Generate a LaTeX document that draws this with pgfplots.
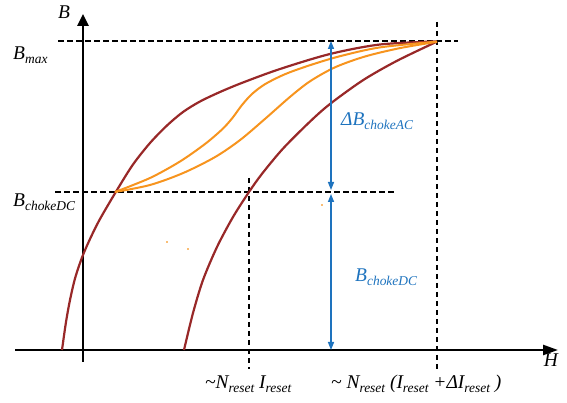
\documentclass[border=0pt]{standalone}
\usepackage{pgfplots}
\pgfplotsset{compat=1.18}
\usetikzlibrary{arrows.meta}
\usepackage{fontspec}
\setmainfont{Liberation Serif}
\definecolor{cred}{RGB}{152,40,40}
\definecolor{corange}{RGB}{247,148,30}
\definecolor{cblue}{RGB}{30,115,190}
\newcommand{\lbl}{\fontsize{19.5}{22}\selectfont\itshape}
\newcommand{\s}[1]{\raisebox{-4bp}{\fontsize{13.5}{14}\selectfont\itshape #1}}
\begin{document}
\begin{tikzpicture}
\begin{axis}[
  width=567bp, height=403bp, scale only axis,
  xmin=0, xmax=567, ymin=0, ymax=403,
  axis lines=none, clip=false,
]
\path (rel axis cs:0,0) rectangle (rel axis cs:1,1);
% dashed guides
\addplot[black, line width=1.1bp, dash pattern=on 5.5bp off 3.5bp] coordinates {(58,362) (458,362)};
\addplot[black, line width=1.1bp, dash pattern=on 5.5bp off 3.5bp] coordinates {(55,211) (395,211)};
\addplot[black, line width=1.1bp, dash pattern=on 5.5bp off 3.5bp] coordinates {(249,225) (249,34)};
\addplot[black, line width=1.1bp, dash pattern=on 5.5bp off 3.5bp] coordinates {(437,381) (437,33)};
% axes
\addplot[black, line width=2.5bp, arrows={-Triangle[length=12bp,width=11bp]}] coordinates {(83,41) (83,389)};
\addplot[black, line width=2.5bp, arrows={-Triangle[length=15bp,width=10bp]}] coordinates {(15,53) (558,53)};
% B-H curves
\addplot[cred, line width=2.2bp, smooth] coordinates {
(62,53) (66,81) (70,103) (75,124.5) (82,145.5) (90,164) (100,184) (117,213) (133,238.5) (150,260) (167,277.5) (183,291) (200,301.5) (220,311) (243,320.5) (280,334) (330,349) (380,358.5) (437,361.6)};
\addplot[cred, line width=2.2bp, smooth] coordinates {
(184,53) (193,90) (203,123) (217,156) (233,186) (249,211) (262,229.2) (283,254.4) (310,281.4) (330,299) (363,322.8) (397,342.2) (437,361.4)};
% minor loop
\addplot[corange, line width=2bp, smooth] coordinates {
(115,211) (150,225) (180,241.5) (205,259) (222,273.5) (232,284.5) (242,298) (252,309) (265,318.8) (285,328.8) (310,337.8) (340,346.8) (380,355.6) (437,361.4)};
\addplot[corange, line width=2bp, smooth] coordinates {
(115,211) (150,218) (183,229.9) (215,245.9) (240,262.9) (265,284.1) (290,306.1) (310,321.7) (335,335.7) (365,346.5) (400,354.9) (437,361.2)};
\addplot[corange, only marks, mark=*, mark size=0.6bp] coordinates {(167,161) (188,154) (322,198)};
% blue arrows
\addplot[cblue, line width=1.4bp, arrows={Triangle[length=8bp,width=6bp]-Triangle[length=8bp,width=6bp]}] coordinates {(331,213) (331,362)};
\addplot[cblue, line width=1.4bp, arrows={Triangle[length=8bp,width=6bp]-Triangle[length=8bp,width=6bp]}] coordinates {(331,53) (331,209)};
% labels
\node[anchor=base, inner sep=0pt] at (axis cs:64,384) {\lbl B};
\node[anchor=base, inner sep=0pt] at (axis cs:551,36) {\lbl H};
\node[anchor=base west, inner sep=0pt] at (axis cs:13,343) {\lbl B\s{max}};
\node[anchor=base west, inner sep=0pt] at (axis cs:13,196) {\lbl B\s{chokeDC}};
\node[anchor=base west, inner sep=0pt, text=cblue] at (axis cs:341,277) {\lbl ΔB\s{chokeAC}};
\node[anchor=base west, inner sep=0pt, text=cblue] at (axis cs:355,121) {\lbl B\s{chokeDC}};
\node[anchor=base west, inner sep=0pt] at (axis cs:205,15) {\lbl \textasciitilde N\s{reset} I\s{reset}};
\node[anchor=base west, inner sep=0pt] at (axis cs:331,15) {\lbl \textasciitilde\ N\s{reset} (I\s{reset} +ΔI\s{reset} )};
\end{axis}
\end{tikzpicture}
\end{document}
